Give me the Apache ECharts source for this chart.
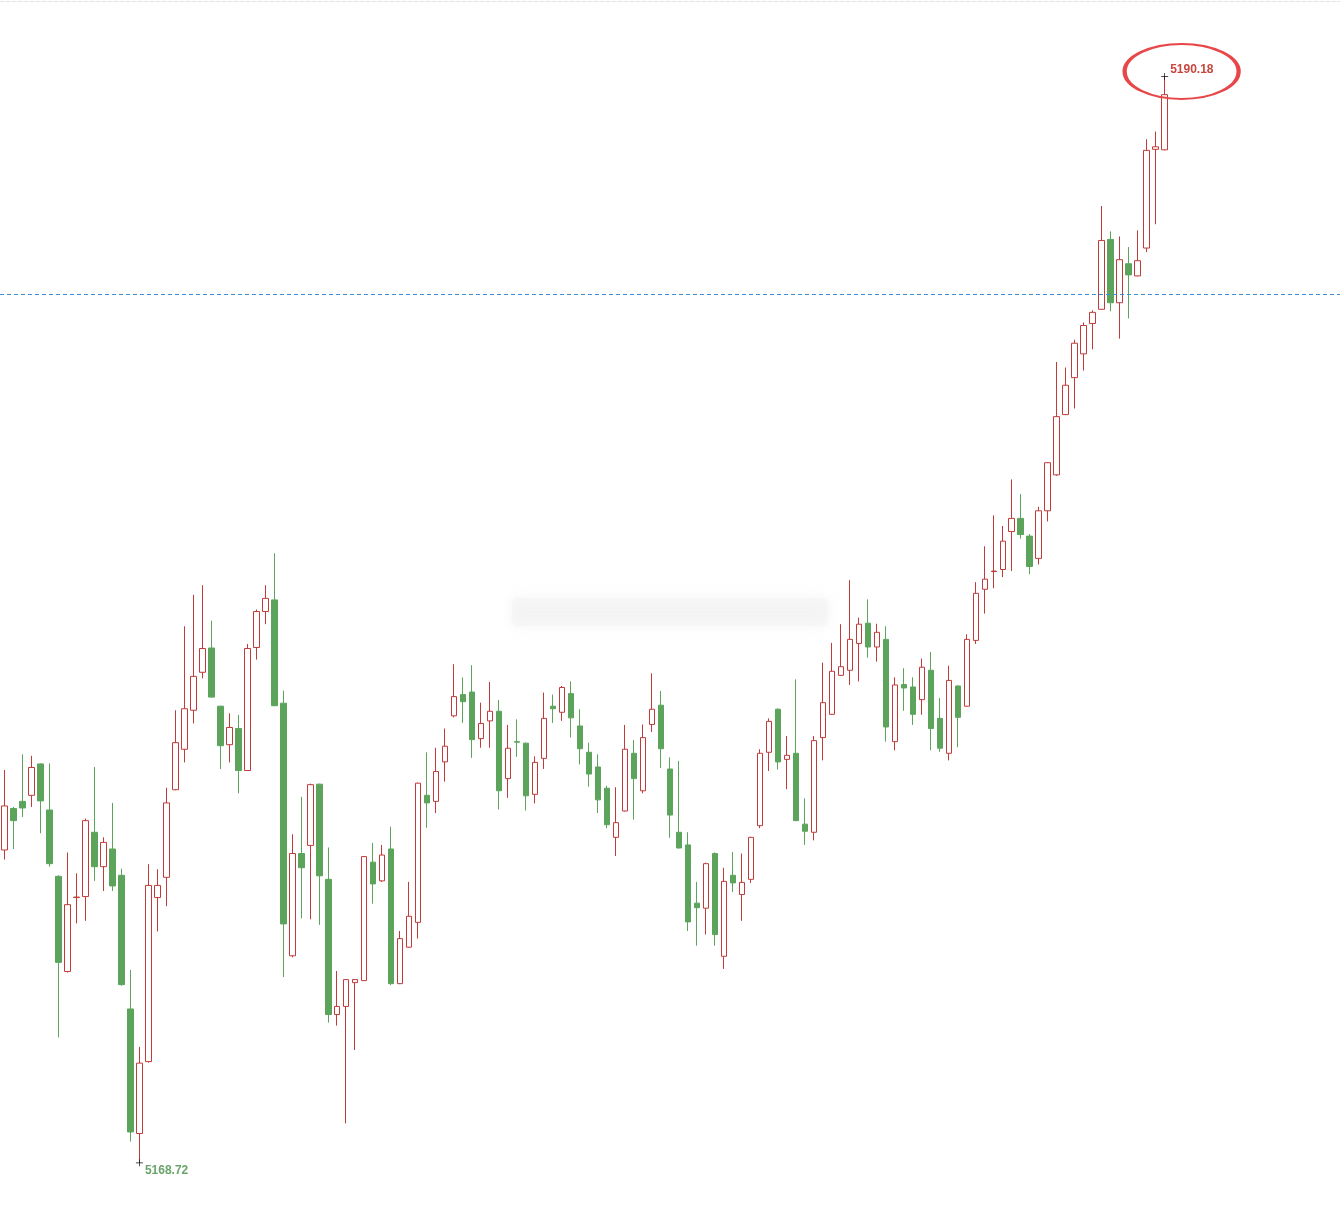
<!DOCTYPE html>
<html>
<head>
<meta charset="utf-8">
<title>K线</title>
<script src="https://cdn.jsdelivr.net/npm/echarts@6/dist/echarts.min.js"></script>
<style>
  html, body { margin: 0; padding: 0; background: #fff; }
  #chart { width: 1341px; height: 1215px; }
</style>
</head>
<body>
<div id="chart"></div>
<script>
// 开盘 / 收盘 / 最低 / 最高
var opens = [
  5174.90, 5175.72, 5175.86, 5175.98, 5176.60, 5175.69, 5174.38, 5172.50, 5173.96, 5173.98,
  5175.25, 5174.57, 5174.92, 5174.40, 5171.76, 5169.30, 5170.72, 5173.96, 5174.36, 5176.09,
  5176.89, 5177.66, 5178.41, 5178.89, 5177.74, 5176.98, 5177.30, 5176.47, 5178.90, 5179.61,
  5179.84, 5177.80, 5172.81, 5174.83, 5174.99, 5176.20, 5174.32, 5171.65, 5171.81, 5172.28,
  5172.32, 5174.66, 5174.29, 5174.92, 5172.26, 5172.98, 5173.47, 5175.98, 5175.86, 5176.64,
  5177.55, 5177.97, 5178.02, 5177.10, 5177.45, 5177.64, 5176.31, 5177.04, 5177.01, 5176.00,
  5176.71, 5177.74, 5177.62, 5177.99, 5177.35, 5176.83, 5176.54, 5176.12, 5175.15, 5175.67,
  5176.81, 5176.07, 5177.38, 5177.76, 5176.50, 5175.25, 5175.00, 5173.85, 5173.75, 5174.83,
  5172.80, 5174.40, 5174.02, 5174.32, 5175.38, 5176.83, 5177.68, 5176.69, 5176.81, 5175.41,
  5175.25, 5177.12, 5177.58, 5178.35, 5178.45, 5178.98, 5179.38, 5178.91, 5179.06, 5177.04,
  5178.17, 5178.12, 5177.87, 5178.45, 5177.50, 5176.81, 5178.14, 5177.74, 5179.04, 5180.05,
  5180.40, 5180.44, 5181.19, 5181.45, 5181.10, 5180.66, 5181.60, 5182.31, 5183.50, 5184.23,
  5184.70, 5185.30, 5185.58, 5186.96, 5185.71, 5186.48, 5186.24, 5186.79, 5188.74, 5188.73
];
var closes = [
  5175.77, 5175.48, 5175.73, 5176.53, 5175.87, 5174.63, 5172.68, 5173.82, 5173.97, 5175.48,
  5174.57, 5175.05, 5174.19, 5172.24, 5169.33, 5170.69, 5174.20, 5174.20, 5175.83, 5177.02,
  5177.69, 5178.33, 5178.88, 5177.92, 5176.96, 5177.32, 5176.47, 5178.88, 5179.61, 5179.87,
  5177.75, 5173.44, 5174.83, 5174.55, 5176.19, 5174.39, 5171.65, 5171.81, 5172.34, 5172.34,
  5174.77, 5174.23, 5174.80, 5172.26, 5173.15, 5173.59, 5176.22, 5175.83, 5176.45, 5176.95,
  5177.93, 5177.83, 5177.08, 5177.40, 5177.64, 5176.07, 5176.91, 5177.03, 5175.97, 5176.63,
  5177.50, 5177.69, 5178.11, 5177.51, 5176.90, 5176.40, 5175.89, 5175.40, 5175.44, 5176.89,
  5176.31, 5177.12, 5177.68, 5176.90, 5175.59, 5174.94, 5173.48, 5173.76, 5174.63, 5173.23,
  5174.28, 5174.25, 5174.26, 5175.15, 5176.81, 5177.44, 5176.64, 5176.77, 5175.48, 5175.27,
  5177.06, 5177.81, 5178.43, 5178.52, 5179.06, 5179.36, 5178.91, 5179.20, 5177.33, 5178.16,
  5178.10, 5177.58, 5178.51, 5177.30, 5176.91, 5178.25, 5177.52, 5179.06, 5179.97, 5180.25,
  5180.41, 5181.00, 5181.45, 5181.13, 5180.50, 5181.60, 5182.55, 5183.46, 5184.08, 5184.91,
  5185.26, 5185.52, 5186.94, 5185.71, 5186.56, 5186.26, 5186.54, 5188.72, 5188.79, 5189.82
];
var lows = [
  5174.71, 5174.92, 5175.55, 5175.75, 5175.23, 5174.57, 5171.20, 5172.48, 5173.45, 5173.50,
  5174.29, 5174.09, 5174.09, 5172.22, 5169.14, 5168.72, 5170.70, 5173.29, 5173.79, 5176.08,
  5176.63, 5177.40, 5178.29, 5177.91, 5176.50, 5176.63, 5176.02, 5176.46, 5178.66, 5179.36,
  5177.74, 5172.39, 5172.78, 5173.55, 5173.53, 5173.42, 5171.49, 5171.43, 5169.50, 5170.95,
  5172.31, 5173.84, 5174.27, 5172.23, 5172.25, 5172.97, 5173.15, 5175.34, 5175.63, 5176.25,
  5177.52, 5177.41, 5176.72, 5176.92, 5176.92, 5175.70, 5175.93, 5176.74, 5175.68, 5175.82,
  5176.50, 5177.41, 5177.45, 5177.12, 5176.59, 5176.15, 5175.63, 5175.33, 5174.78, 5175.66,
  5175.50, 5176.02, 5177.23, 5176.52, 5175.14, 5174.93, 5173.30, 5173.01, 5173.23, 5173.01,
  5172.55, 5174.07, 5173.50, 5174.25, 5175.33, 5176.46, 5176.49, 5176.10, 5175.47, 5175.00,
  5175.09, 5176.67, 5177.57, 5178.34, 5178.16, 5178.23, 5178.70, 5178.62, 5177.04, 5176.87,
  5177.65, 5177.37, 5177.57, 5176.87, 5176.84, 5176.67, 5176.93, 5177.73, 5178.97, 5179.57,
  5180.07, 5180.29, 5180.41, 5181.05, 5180.35, 5180.54, 5181.39, 5182.29, 5183.49, 5183.62,
  5184.37, 5184.79, 5185.57, 5185.54, 5185.00, 5185.40, 5186.23, 5186.71, 5187.26, 5188.72
];
var highs = [
  5176.48, 5175.75, 5176.79, 5176.76, 5176.61, 5176.61, 5174.40, 5174.85, 5174.44, 5175.52,
  5176.54, 5175.15, 5175.83, 5174.53, 5172.53, 5171.01, 5174.62, 5174.52, 5176.13, 5177.66,
  5179.32, 5179.94, 5180.13, 5179.43, 5177.75, 5177.60, 5177.57, 5178.97, 5179.65, 5180.13,
  5180.76, 5178.05, 5175.21, 5175.95, 5176.21, 5176.21, 5174.95, 5172.51, 5172.35, 5172.35,
  5174.78, 5175.04, 5175.00, 5175.36, 5173.30, 5174.27, 5176.23, 5176.83, 5176.92, 5177.30,
  5178.57, 5178.31, 5178.55, 5177.81, 5178.22, 5177.86, 5177.37, 5177.48, 5177.02, 5176.75,
  5178.01, 5177.97, 5178.14, 5178.23, 5177.68, 5177.02, 5176.79, 5176.17, 5176.14, 5177.37,
  5177.07, 5177.38, 5178.39, 5178.04, 5176.73, 5176.66, 5175.25, 5174.27, 5174.65, 5174.85,
  5174.55, 5174.86, 5174.83, 5175.16, 5176.89, 5177.50, 5177.70, 5177.15, 5178.27, 5175.92,
  5177.15, 5178.60, 5178.99, 5179.36, 5180.23, 5179.49, 5179.85, 5179.37, 5179.32, 5178.31,
  5178.49, 5178.31, 5178.68, 5178.81, 5177.90, 5178.54, 5178.15, 5179.16, 5180.19, 5180.90,
  5181.51, 5181.30, 5182.22, 5181.93, 5181.14, 5181.68, 5182.56, 5184.54, 5184.43, 5184.98,
  5185.32, 5185.56, 5187.62, 5187.12, 5187.02, 5186.81, 5187.14, 5188.94, 5189.09, 5190.18
];
// 参考线
var refLevel = 5185.88;
// 横轴：130根K线 + 右侧空白
var barCount = 149;
var categories = [];
for (var i = 0; i < barCount; i++) {
  categories.push(String(i + 1));
}

var upColor = "#c23b3b";
var downColor = "#5ca45c";

var kData = opens.map(function(o, i) {
  return [o, closes[i], lows[i], highs[i]];
});

var crossPath = "path://M0,4.5H10V5.5H0Z M4.5,0H5.5V10H4.5Z";

var option = {
  animation: false,
  backgroundColor: "#fff",
  grid: { left: -1, right: 1, top: 1, bottom: 0 },
  xAxis: {
    type: "category",
    position: "top",
    data: categories,
    boundaryGap: true,
    axisLine: { show: true, lineStyle: { color: "#e3e3e3", type: "dashed", width: 1 } },
    axisTick: { show: false },
    axisLabel: { show: false },
    splitLine: { show: false },
  },
  yAxis: {
    type: "value",
    min: 5167.69,
    max: 5191.67,
    show: false,
    splitLine: { show: false },
  },
  graphic: [
    {
      // 模糊水印
      type: "rect",
      left: 512,
      top: 598,
      shape: { width: 316, height: 28, r: 6 },
      style: {
        fill: "rgba(245,245,245,0.6)",
        shadowBlur: 12,
        shadowColor: "rgba(232,232,232,0.9)",
      },
      silent: true,
      z: -1,
    },
  ],
  series: [
    {
      type: "candlestick",
      data: kData,
      barWidth: 6,
      itemStyle: {
        color: "#ffffff",
        color0: downColor,
        borderColor: upColor,
        borderColor0: downColor,
        borderWidth: 1,
      },
      markLine: {
        silent: true,
        symbol: ["none", "none"],
        label: { show: false },
        lineStyle: { color: "#3d8fd8", type: [4, 3], width: 1 },
        data: [{ yAxis: refLevel }],
      },
      markPoint: {
        silent: true,
        data: [
          {
            type: "max",
            valueDim: "highest",
            symbol: "circle",
            symbolSize: [114, 55],
            symbolOffset: [17, -5],
            itemStyle: { color: "rgba(0,0,0,0)", borderColor: "#e8474a", borderWidth: 3 },
            label: { show: false },
          },
          {
            type: "max",
            valueDim: "highest",
            symbol: crossPath,
            symbolSize: 7,
            itemStyle: { color: "#111" },
            label: {
              show: true,
              position: "right",
              distance: 2,
              offset: [0, -7],
              color: "#c8463f",
              fontWeight: "bold",
              fontSize: 12,
              fontFamily: "Liberation Sans, Arial, sans-serif",
              formatter: function(p) { return p.value.toFixed(2); },
            },
          },
          {
            type: "min",
            valueDim: "lowest",
            symbol: crossPath,
            symbolSize: 7,
            itemStyle: { color: "#111" },
            label: {
              show: true,
              position: "right",
              distance: 2,
              offset: [0, 8],
              color: "#6aa56a",
              fontWeight: "bold",
              fontSize: 12,
              fontFamily: "Liberation Sans, Arial, sans-serif",
              formatter: function(p) { return p.value.toFixed(2); },
            },
          },
        ],
      },
    },
  ],
};

var myChart = echarts.init(document.getElementById("chart"));
myChart.setOption(option);
</script>
</body>
</html>
